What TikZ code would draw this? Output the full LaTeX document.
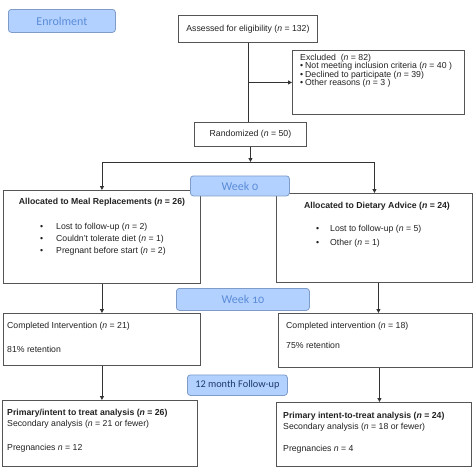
\documentclass[tikz,border=0pt]{standalone}
\usepackage{fontspec}
\setmainfont{Liberation Sans}
\newfontfamily\lblfont[Numbers=OldStyle]{Carlito}
\newfontfamily\fufont{Carlito}
\usetikzlibrary{arrows.meta}
\definecolor{boxgray}{HTML}{555555}
\definecolor{linegray}{HTML}{333333}
\definecolor{textgray}{HTML}{222222}
\definecolor{phasefill}{HTML}{B3D1FF}
\definecolor{phaseborder}{HTML}{7F9CC9}
\definecolor{phasetext}{HTML}{5B8CD8}
\definecolor{futext}{HTML}{1F3A6E}
\begin{document}
\begin{tikzpicture}[x=1pt,y=-1pt,
  box/.style={draw=boxgray, line width=0.9pt, fill=white, inner sep=0pt, anchor=north west,
    text=textgray, font=\fontsize{8.7}{10}\selectfont},
  phase/.style={draw=phaseborder, fill=phasefill, rounded corners=3pt, line width=0.8pt,
    inner sep=0pt, anchor=north west, text=phasetext, font=\lblfont\fontsize{12}{14}\selectfont},
  txt/.style={anchor=west, inner sep=0pt, text=textgray, font=\fontsize{8.7}{10}\selectfont},
  ttl/.style={inner sep=0pt, text=textgray, font=\bfseries\fontsize{8.7}{10}\selectfont},
  arr/.style={draw=linegray, line width=0.9pt, -{Triangle[width=4pt,length=4pt]}},
  ln/.style={draw=linegray, line width=0.9pt}]
\useasboundingbox (0,0) rectangle (474,474);
\fill[white] (0,0) rectangle (474,474);

% boxes
\node[box, minimum width=139, minimum height=27] (assess) at (178,15) {Assessed for eligibility (\textit{n} = 132)};
\node[box, minimum width=172, minimum height=64] (excl) at (292,50) {};
\node[box, minimum width=112, minimum height=24] (rand) at (194,122) {Randomized (\textit{n} = 50)};
\node[box, minimum width=197, minimum height=93] (allocL) at (3,190) {};
\node[box, minimum width=196, minimum height=89] (allocR) at (276,193) {};
\node[box, minimum width=197, minimum height=52] (compL) at (3,313) {};
\node[box, minimum width=194, minimum height=54] (compR) at (278,313) {};
\node[box, minimum width=195, minimum height=66] (finalL) at (2,400) {};
\node[box, minimum width=195, minimum height=64] (finalR) at (276,402) {};

% connectors
\coordinate (split) at (248,162);
\draw[ln] (assess.south) -- (assess.south |- rand.north);
\draw[arr] (assess.south |- excl.west) -- (excl.west);
\draw[arr] (rand.south) -- (rand.south |- split);
\coordinate (splitL) at (allocL.north |- split);
\coordinate (splitR) at (allocR.north |- split);
\draw[ln] (splitL) -- (splitR);
\draw[arr] (splitL) -- (allocL.north);
\draw[arr] (splitR) -- (allocR.north);
\draw[arr] (allocL.south) -- (compL.north);
\draw[arr] ([xshift=4]allocR.south) -- ([xshift=4]allocR.south |- compR.north);
\draw[arr] (compL.south) -- (compL.south |- finalL.north);
\draw[arr] ([xshift=4]compR.south) -- ([xshift=4]compR.south |- finalR.north);

% excluded text
\node[txt] (ex0) at (300,58.3) {Excluded\ \ (\textit{n} = 82)};
\node[txt] (exb1) at (300,66.7) {•};
\node[txt] (ex1) at (305,66.7) {Not meeting inclusion criteria (\textit{n} = 40 )};
\node[txt] (exb2) at (300,75) {•};
\node[txt] (ex2) at (305,75) {Declined to participate (\textit{n} = 39)};
\node[txt] (exb3) at (300,83.3) {•};
\node[txt] (ex3) at (305,83.3) {Other reasons (\textit{n} = 3 )};

% allocation left
\node[ttl] (alT) at (102,202) {Allocated to Meal Replacements (\textit{n} = 26)};
\node[txt] (alb1) at (40,227) {•};
\node[txt] (al1) at (56,227) {Lost to follow-up (\textit{n} = 2)};
\node[txt] (alb2) at (40,239) {•};
\node[txt] (al2) at (56,239) {Couldn't tolerate diet (\textit{n} = 1)};
\node[txt] (alb3) at (40,251) {•};
\node[txt] (al3) at (56,251) {Pregnant before start (\textit{n} = 2)};

% allocation right
\node[ttl] (arT) at (377,206) {Allocated to Dietary Advice (\textit{n} = 24)};
\node[txt] (arb1) at (316,229) {•};
\node[txt] (ar1) at (330,229) {Lost to follow-up (\textit{n} = 5)};
\node[txt] (arb2) at (316,243) {•};
\node[txt] (ar2) at (330,243) {Other (\textit{n} = 1)};

% completed
\node[txt] (cl1) at (7,326) {Completed Intervention (\textit{n} = 21)};
\node[txt] (cl2) at (7,349) {81\% retention};
\node[txt] (cr1) at (286,326) {Completed intervention (\textit{n} = 18)};
\node[txt] (cr2) at (286,345) {75\% retention};

% final
\node[txt, font=\bfseries\fontsize{8.7}{10}\selectfont] (fl1) at (7,413) {Primary/intent to treat analysis (\textit{n} = 26)};
\node[txt] (fl2) at (7,424) {Secondary analysis (\textit{n} = 21 or fewer)};
\node[txt] (fl3) at (7,448) {Pregnancies \textit{n} = 12};
\node[txt, font=\bfseries\fontsize{8.7}{10}\selectfont] (fr1) at (283,416) {Primary intent-to-treat analysis (\textit{n} = 24)};
\node[txt] (fr2) at (283,427) {Secondary analysis (\textit{n} = 18 or fewer)};
\node[txt] (fr3) at (283,449) {Pregnancies \textit{n} = 4};

% phase labels
\node[phase, minimum width=107, minimum height=23] (enrol) at (8,9) {Enrolment};
\node[phase, minimum width=99, minimum height=20] (week0) at (190,175.5) {Week 0};
\node[phase, minimum width=133, minimum height=22] (week10) at (176,288) {Week 10};
\node[phase, minimum width=100, minimum height=20.5, text=futext, font=\fufont\fontsize{10.3}{12}\selectfont] (follow) at (187,374.5) {12 month Follow-up\hspace{8pt}};
\end{tikzpicture}
\end{document}
